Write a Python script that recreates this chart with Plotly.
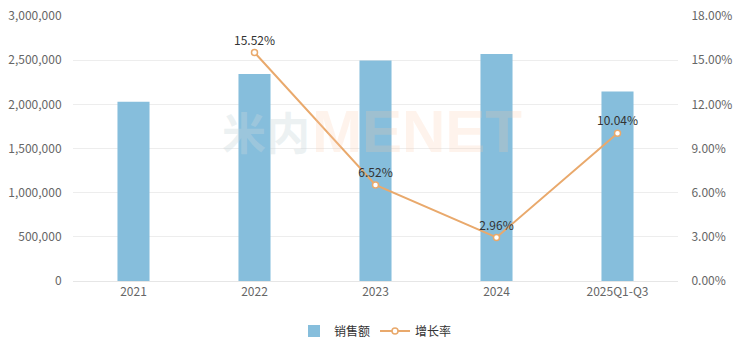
import plotly.graph_objects as go

categories = ["2021", "2022", "2023", "2024", "2025Q1-Q3"]
sales = [2028000, 2343000, 2496000, 2570000, 2145000]
growth_x = ["2022", "2023", "2024", "2025Q1-Q3"]
growth = [15.52, 6.52, 2.96, 10.04]
growth_labels = ["15.52%", "6.52%", "2.96%", "10.04%"]
left_ticks = [0, 500000, 1000000, 1500000, 2000000, 2500000, 3000000]
right_ticks = [0, 3, 6, 9, 12, 15, 18]
right_tick_text = ["0.00%", "3.00%", "6.00%", "9.00%", "12.00%", "15.00%", "18.00%"]

FONT = "Noto Sans CJK SC"

fig = go.Figure()
fig.add_trace(go.Bar(
    x=categories, y=sales, name="销售额",
    marker=dict(color="#86BEDC", line=dict(width=0)),
    width=0.265,
))
fig.add_trace(go.Scatter(
    x=growth_x, y=growth, name="增长率", yaxis="y2",
    mode="lines+markers+text",
    line=dict(color="#E9A96C", width=2),
    marker=dict(symbol="circle", size=6, color="white",
                line=dict(color="#E9A96C", width=1.5)),
    text=growth_labels, textposition="top center",
    textfont=dict(family=FONT, size=12, color="#333333"),
))

# watermark
fig.add_annotation(x=0.243, y=0.565, xref="paper", yref="paper", xanchor="left",
                   text="<b>米内</b>", showarrow=False,
                   font=dict(family=FONT, size=44, color="rgba(200,215,220,0.35)"))
fig.add_annotation(x=0.392, y=0.565, xref="paper", yref="paper", xanchor="left",
                   text="<b>MENET</b>", showarrow=False,
                   font=dict(family="Liberation Sans", size=60, color="rgba(250,200,170,0.22)"))

fig.update_layout(
    width=744, height=351,
    margin=dict(l=73, r=66, t=16, b=70, autoexpand=False),
    paper_bgcolor="white", plot_bgcolor="white",
    font=dict(family=FONT, size=12, color="#666666"),
    xaxis=dict(showgrid=False, showline=True, linecolor="#E6E6E6",
               ticks="", tickfont=dict(size=12, color="#666666")),
    yaxis=dict(range=[0, 3000000], tickvals=left_ticks, tickformat=",d",
               showgrid=True, gridcolor="#EDEDED", zeroline=False,
               ticks="outside", ticklen=8, tickcolor="white",
               tickfont=dict(size=12, color="#666666")),
    yaxis2=dict(range=[0, 18], tickvals=right_ticks, ticktext=right_tick_text,
                overlaying="y", side="right",
                showgrid=False, zeroline=False,
                ticks="outside", ticklen=10, tickcolor="white",
                tickfont=dict(size=12, color="#666666")),
    legend=dict(orientation="h", x=0.5, xanchor="center",
                yref="container", y=0.057, yanchor="middle",
                font=dict(size=12, color="#333333")),
    showlegend=True,
)

fig.write_html("out.html")
